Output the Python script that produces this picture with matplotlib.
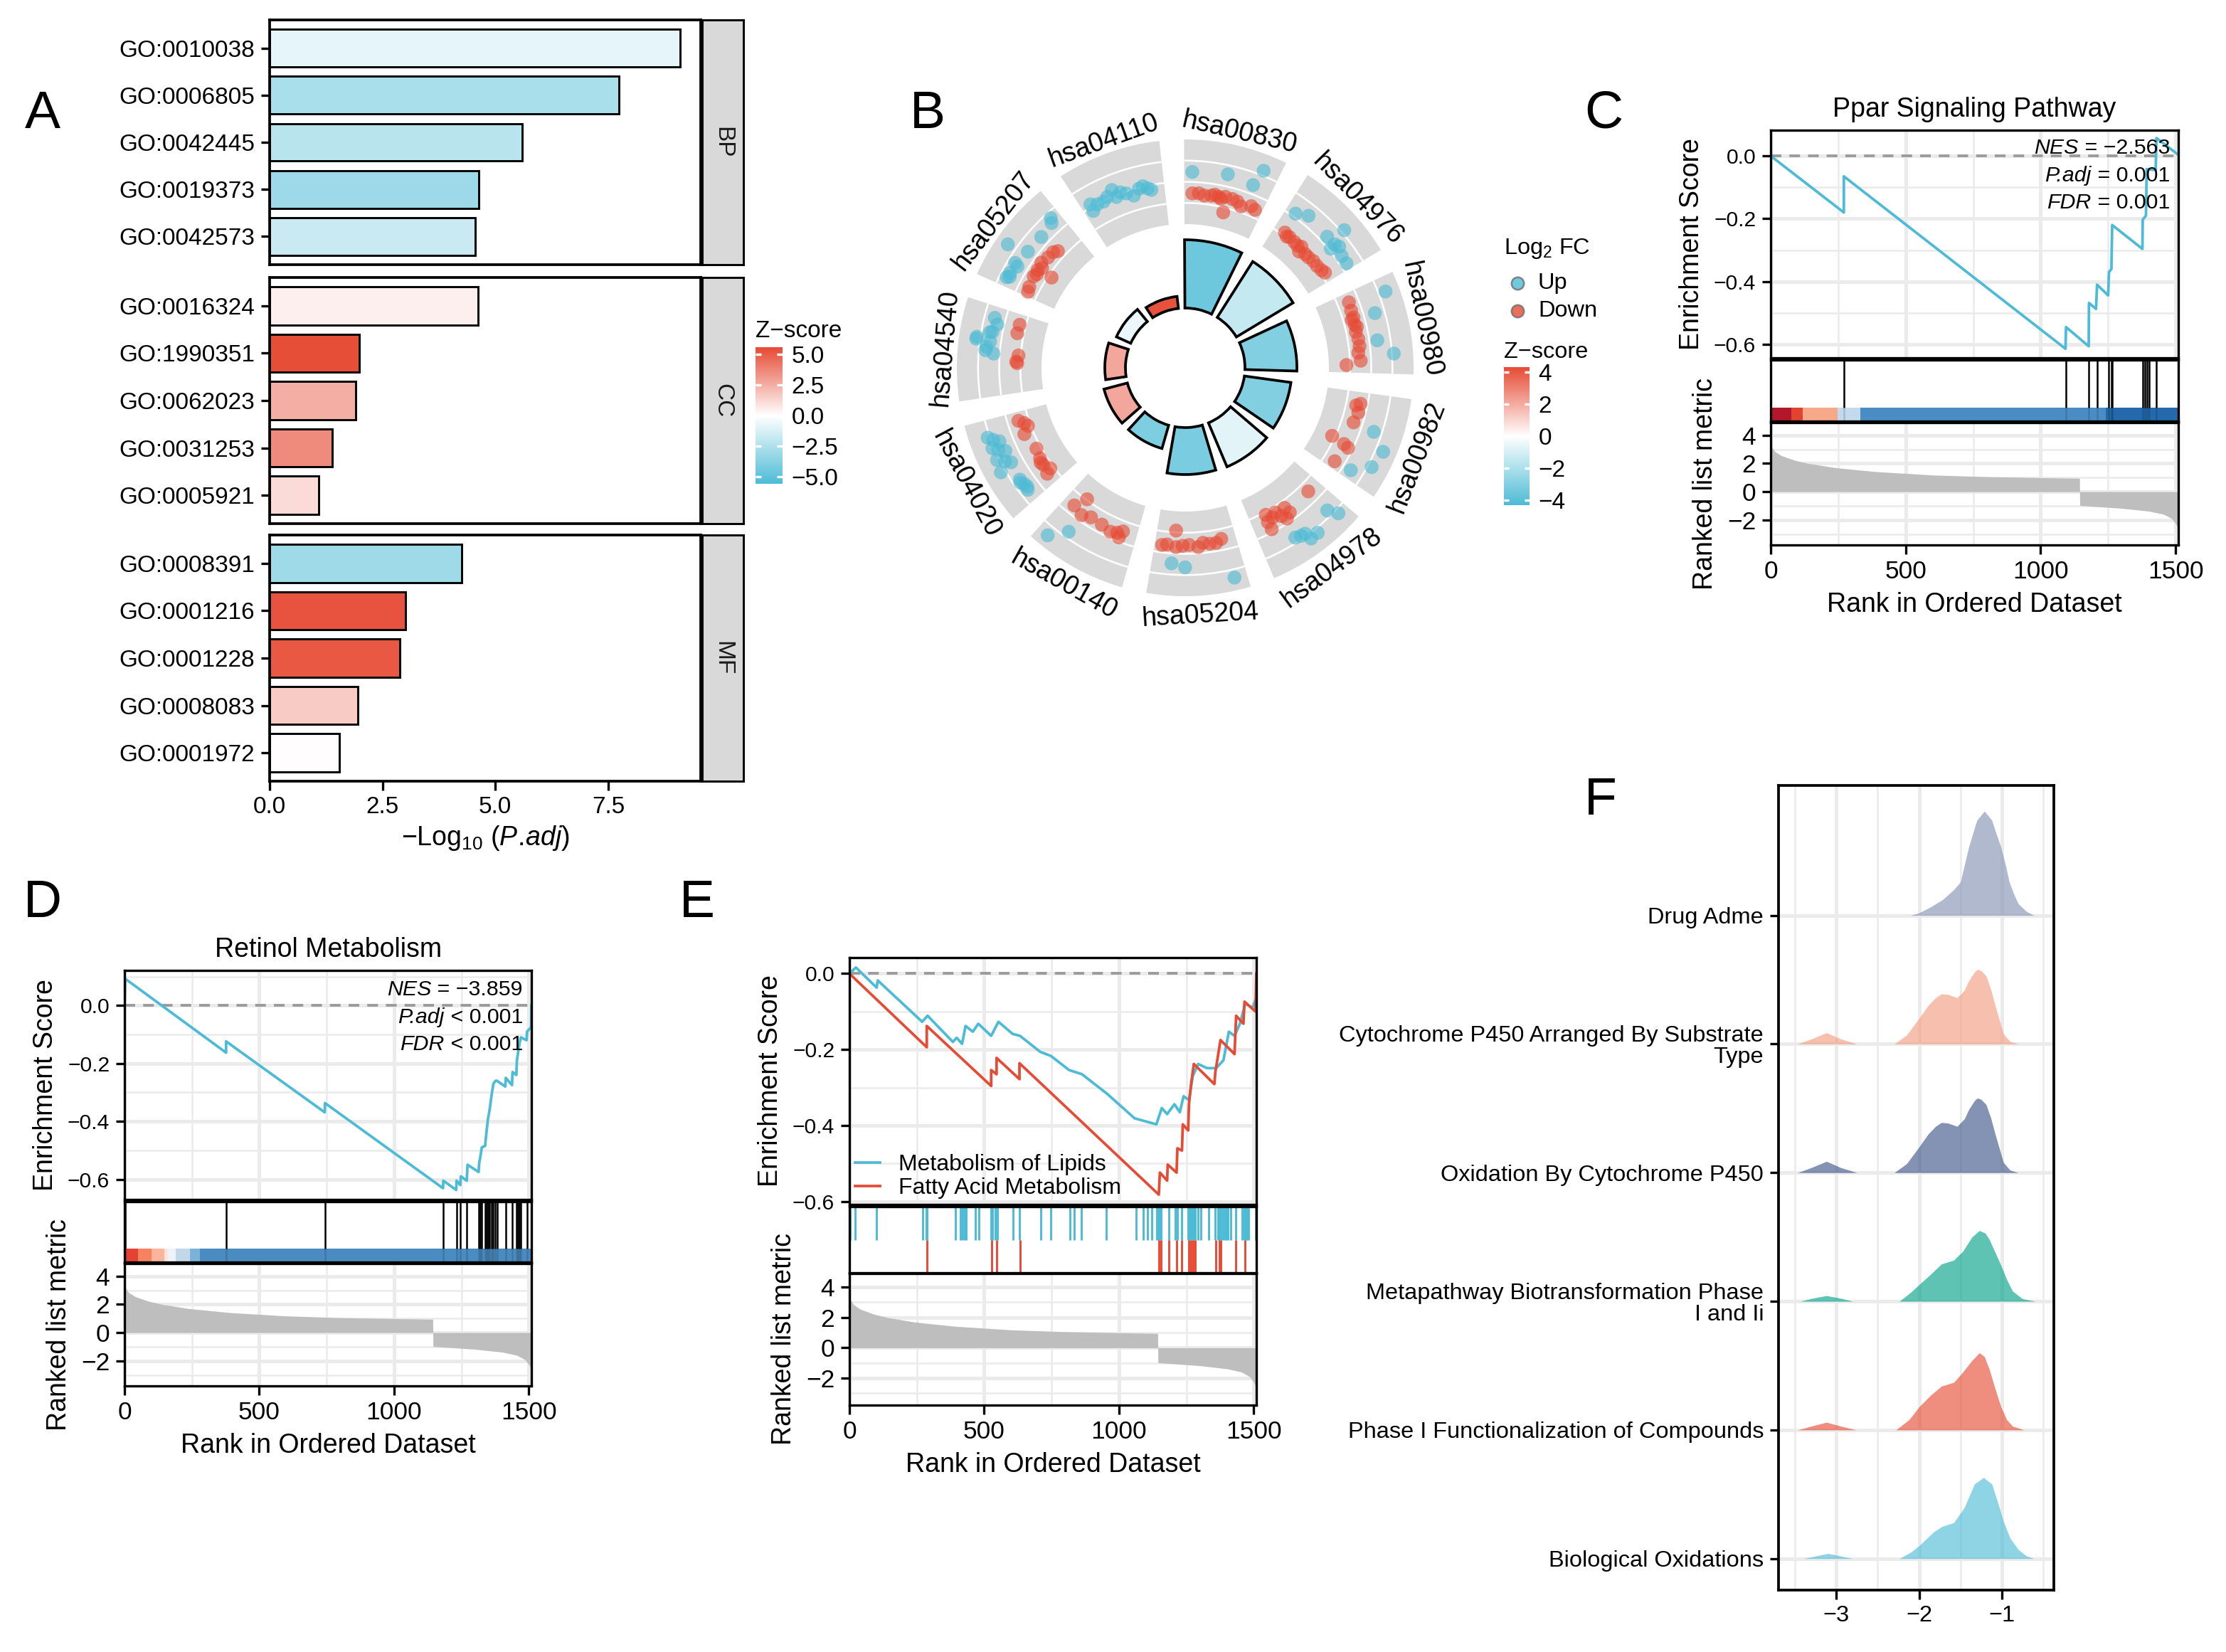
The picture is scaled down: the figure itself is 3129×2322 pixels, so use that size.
import numpy as np
import matplotlib
matplotlib.use('Agg')
import matplotlib.pyplot as plt
from matplotlib.patches import Wedge, Rectangle
from matplotlib.colors import LinearSegmentedColormap, Normalize
from matplotlib.cm import ScalarMappable
from matplotlib.lines import Line2D

plt.rcParams['font.family'] = ['Liberation Sans', 'DejaVu Sans']
plt.rcParams['mathtext.fontset'] = 'custom'
plt.rcParams['mathtext.rm'] = 'Liberation Sans'
plt.rcParams['mathtext.it'] = 'Liberation Sans:italic'
plt.rcParams['mathtext.default'] = 'regular'

# ---------------- data: panel A (GO bars) ----------------
go_ids = ['GO:0010038', 'GO:0006805', 'GO:0042445', 'GO:0019373', 'GO:0042573',
          'GO:0016324', 'GO:1990351', 'GO:0062023', 'GO:0031253', 'GO:0005921',
          'GO:0008391', 'GO:0001216', 'GO:0001228', 'GO:0008083', 'GO:0001972']
go_cat = ['BP'] * 5 + ['CC'] * 5 + ['MF'] * 5
go_padj = [9.10, 7.73, 5.59, 4.64, 4.55, 4.61, 1.98, 1.91, 1.38, 1.08, 4.26, 3.01, 2.89, 1.95, 1.55]
go_z = [-0.8, -2.7, -2.2, -3.1, -1.7, 0.5, 5.5, 2.5, 3.6, 1.1, -3.0, 5.3, 5.2, 1.6, 0.05]

# ---------------- data: panel B (KEGG circle) ----------------
kegg_ids = ['hsa00830', 'hsa04976', 'hsa00980', 'hsa00982', 'hsa04978', 'hsa05204',
            'hsa00140', 'hsa04020', 'hsa04540', 'hsa05207', 'hsa04110']
kegg_neglog_p = [9.6, 9.3, 7.3, 6.6, 6.7, 6.6, 3.4, 3.4, 2.9, 2.2, 1.7]
kegg_z = [-3.5, -1.4, -3.0, -3.0, -0.7, -3.2, -3.1, 2.1, 2.1, -0.5, 4.1]

# gene points: (position inside sector 0-1, log2FC track value)
up_hsa00830 = [(0.09, 0.47), (0.48, 0.57), (0.83, 1.23), (0.78, 0.42)]
down_hsa00830 = [(0.10, -0.54), (0.18, -0.52), (0.25, -0.60), (0.34, -0.56), (0.38, -0.49), (0.43, -0.56),
                 (0.46, -0.62), (0.51, -0.49), (0.53, -1.23), (0.60, -0.51), (0.67, -0.56), (0.73, -0.72),
                 (0.85, -0.54), (0.91, -0.63)]
up_hsa04976 = [(0.12, 0.17), (0.25, 0.46), (0.63, 1.15), (0.56, 0.34), (0.68, 0.37), (0.73, 0.47),
               (0.69, 0.10), (0.83, 0.30), (0.93, 0.29)]
down_hsa04976 = [(0.15, -0.85), (0.23, -0.89), (0.32, -0.92), (0.43, -0.86), (0.45, -1.10), (0.53, -0.98),
                 (0.59, -0.97), (0.67, -0.91), (0.75, -0.92), (0.83, -0.87), (0.88, -0.80), (0.20, -0.95),
                 (0.38, -0.95)]
up_hsa00980 = [(0.15, 1.34), (0.33, 0.54), (0.63, 0.38), (0.79, 1.09)]
down_hsa00980 = [(0.115, -0.46), (0.22, -0.50), (0.31, -0.49), (0.33, -0.60), (0.40, -0.53), (0.43, -0.45),
                 (0.49, -0.55), (0.58, -0.50), (0.67, -0.49), (0.75, -0.58), (0.85, -0.49), (0.90, -1.17)]
up_hsa00982 = [(0.41, 0.62), (0.57, 1.37), (0.76, 1.19), (0.90, 0.41)]
down_hsa00982 = [(0.14, -0.33), (0.17, -0.52), (0.25, -0.34), (0.38, -0.43), (0.64, -1.14), (0.67, -0.47),
                 (0.69, -0.22), (0.91, -0.46)]
up_hsa04978 = [(0.11, 1.19), (0.17, 0.72), (0.40, 1.21), (0.49, 1.23), (0.51, 0.88), (0.62, 0.77), (0.56, 0.85)]
down_hsa04978 = [(0.17, -0.55), (0.53, -0.68), (0.51, -0.36), (0.58, -0.20), (0.66, -0.74), (0.78, -0.87),
                 (0.80, -0.52), (0.80, -0.14), (0.72, -0.60), (0.62, -0.45)]
up_hsa05204 = [(0.13, 1.39), (0.63, 0.64), (0.78, 0.47)]
down_hsa05204 = [(0.18, -0.53), (0.25, -0.39), (0.41, -0.48), (0.47, -0.30), (0.58, -0.42), (0.74, -0.31),
                 (0.75, -1.09), (0.91, -0.35), (0.33, -0.40), (0.66, -0.38), (0.85, -0.40)]
up_hsa00140 = [(0.73, 0.71), (0.88, 1.45)]
down_hsa00140 = [(0.18, -0.52), (0.20, -0.19), (0.24, -0.36), (0.32, -0.28), (0.45, -0.40), (0.61, -0.44),
                 (0.72, -0.28), (0.78, -1.04), (0.86, -0.44)]
up_hsa04020 = [(0.13, 0.62), (0.20, 0.58), (0.27, 0.64), (0.44, 1.22), (0.48, 0.57), (0.57, 1.11),
               (0.62, 0.57), (0.70, 1.08), (0.74, 0.65), (0.82, 1.11), (0.16, 0.55), (0.24, 0.70),
               (0.52, 0.80), (0.66, 0.85), (0.78, 0.90)]
down_hsa04020 = [(0.14, -0.57), (0.17, -0.84), (0.26, -0.67), (0.35, -0.71), (0.48, -0.79), (0.71, -0.57),
                 (0.79, -0.87), (0.89, -0.52), (0.30, -0.62), (0.84, -0.75)]
up_hsa04540 = [(0.48, 0.29), (0.51, 0.69), (0.55, 0.65), (0.61, 0.51), (0.64, 1.16), (0.72, 0.47),
               (0.81, 0.32), (0.875, 0.51), (0.62, 1.18), (0.71, 0.59)]
down_hsa04540 = [(0.38, -0.85), (0.48, -0.89), (0.76, -0.69), (0.87, -0.71), (0.40, -0.80)]
up_hsa05207 = [(0.10, 0.67), (0.16, 0.62), (0.26, 0.47), (0.28, 0.65), (0.40, 1.42), (0.46, 0.45),
               (0.68, 0.40), (0.87, 0.52), (0.90, 0.72), (0.12, 0.55)]
down_hsa05207 = [(0.06, -0.54), (0.12, -0.49), (0.26, -0.43), (0.35, -0.43), (0.37, -1.17), (0.45, -0.37),
                 (0.55, -0.47), (0.64, -0.50), (0.69, -0.63), (0.40, -0.55), (0.30, -0.50)]
up_hsa04110 = [(0.10, -0.20), (0.11, 0.14), (0.18, -0.02), (0.26, -0.04), (0.32, 0.08), (0.40, 0.30),
               (0.42, -0.09), (0.54, -0.09), (0.62, -0.30), (0.75, 0.02), (0.80, -0.13), (0.84, -0.23),
               (0.70, -0.05), (0.48, 0.05)]
down_hsa04110 = []

up_points = [up_hsa00830, up_hsa04976, up_hsa00980, up_hsa00982, up_hsa04978, up_hsa05204,
             up_hsa00140, up_hsa04020, up_hsa04540, up_hsa05207, up_hsa04110]
down_points = [down_hsa00830, down_hsa04976, down_hsa00980, down_hsa00982, down_hsa04978, down_hsa05204,
               down_hsa00140, down_hsa04020, down_hsa04540, down_hsa05207, down_hsa04110]

# ---------------- data: GSEA panels C, D, E ----------------
n_genes = 1510
rank_x = [1, 5, 15, 40, 90, 140, 240, 390, 600, 800, 1000, 1144, 1145, 1300, 1400, 1455, 1485, 1500, 1510]
rank_metric = [3.45, 3.15, 2.85, 2.55, 2.22, 2.0, 1.7, 1.42, 1.18, 1.06, 0.99, 0.95,
               -0.98, -1.18, -1.38, -1.6, -1.9, -2.25, -2.6]

es_c_x = [0, 271, 271, 1092, 1094, 1178, 1179, 1205, 1209, 1250, 1253, 1262, 1265, 1377, 1378,
          1390, 1393, 1426, 1429, 1508]
es_c_y = [0.0, -0.18, -0.065, -0.614, -0.545, -0.606, -0.468, -0.487, -0.41, -0.444, -0.37, -0.36,
          -0.22, -0.296, -0.203, -0.19, -0.042, -0.045, 0.057, 0.005]
hits_c = [271, 1094, 1179, 1209, 1253, 1262, 1265, 1377, 1385, 1393, 1401, 1429]
bar_c_edges = [0, 77, 118, 247, 332, 1240, 1510]
bar_c_cols = ['#B2182B', '#E0432F', '#F7A889', '#C3DAEC', '#4A8DC4', '#2469AB']

es_d_x = [0, 3, 377, 377, 743, 744, 1182, 1183, 1231, 1232, 1246, 1248, 1270, 1273, 1314, 1316, 1321,
          1326, 1338, 1344, 1349, 1355, 1362, 1369, 1377, 1382, 1413, 1415, 1438, 1440, 1454, 1456,
          1461, 1466, 1471, 1492, 1494, 1509, 1510]
es_d_y = [0, 0.092, -0.163, -0.124, -0.369, -0.337, -0.631, -0.605, -0.637, -0.605, -0.62, -0.59,
          -0.605, -0.55, -0.575, -0.545, -0.52, -0.49, -0.485, -0.43, -0.39, -0.36, -0.31, -0.27,
          -0.26, -0.26, -0.28, -0.25, -0.275, -0.23, -0.24, -0.19, -0.16, -0.13, -0.11, -0.12,
          -0.09, -0.075, 0.0]
hits_d = [3, 377, 744, 1183, 1232, 1247, 1270, 1315, 1321, 1325, 1338, 1343, 1348, 1353, 1361, 1368,
          1376, 1382, 1414, 1439, 1455, 1460, 1465, 1470, 1493, 1510]
bar_d_edges = [0, 51, 101, 147, 160, 190, 244, 281, 1510]
bar_d_cols = ['#E34234', '#F7825F', '#FCB59C', '#FEE5D9', '#EEF3FA', '#C2D8E8', '#7BB3D8', '#4A8CC2']

es_lipid_x = [0, 24, 101, 105, 270, 290, 384, 398, 418, 431, 458, 478, 526, 553, 606, 633, 708, 748,
              815, 863, 957, 1058, 1139, 1159, 1179, 1206, 1226, 1240, 1260, 1274, 1294, 1327, 1361,
              1388, 1408, 1429, 1449, 1469, 1496, 1507]
es_lipid_y = [0, 0.016, -0.037, -0.018, -0.127, -0.111, -0.18, -0.169, -0.185, -0.138, -0.153, -0.132,
              -0.164, -0.127, -0.159, -0.164, -0.206, -0.217, -0.254, -0.265, -0.317, -0.381, -0.397,
              -0.354, -0.37, -0.344, -0.365, -0.323, -0.333, -0.27, -0.238, -0.249, -0.249, -0.228,
              -0.153, -0.164, -0.132, -0.079, -0.09, -0.069]
es_fatty_x = [0, 287, 287, 526, 526, 546, 546, 631, 631, 1148, 1152, 1179, 1181, 1214, 1217, 1234, 1237,
              1257, 1260, 1268, 1278, 1354, 1358, 1377, 1429, 1435, 1462, 1466, 1507, 1510]
es_fatty_y = [0, -0.194, -0.138, -0.296, -0.254, -0.265, -0.222, -0.278, -0.236, -0.582, -0.524, -0.545,
              -0.503, -0.524, -0.46, -0.466, -0.397, -0.413, -0.344, -0.29, -0.238, -0.291, -0.259,
              -0.175, -0.212, -0.111, -0.132, -0.074, -0.1, 0.0]
hits_lipid = [2, 22, 100, 272, 285, 289, 393, 413, 420, 427, 434, 467, 481, 525, 530, 542, 548, 608, 631,
              709, 747, 818, 835, 861, 954, 1065, 1091, 1106, 1121, 1141, 1146, 1151, 1156, 1184, 1209,
              1217, 1232, 1257, 1262, 1268, 1273, 1278, 1283, 1293, 1303, 1333, 1357, 1367, 1374, 1379,
              1387, 1394, 1399, 1404, 1414, 1434, 1458, 1465, 1470, 1475, 1480, 1507]
hits_fatty = [287, 527, 547, 633, 1148, 1156, 1184, 1214, 1232, 1259, 1268, 1276, 1283, 1359, 1374, 1379,
              1434, 1468]

# ---------------- data: panel F (ridges) ----------------
ridge_names = ['Biological Oxidations', 'Phase I Functionalization of Compounds',
               'Metapathway Biotransformation Phase\nI and Ii', 'Oxidation By Cytochrome P450',
               'Cytochrome P450 Arranged By Substrate\nType', 'Drug Adme']
ridge_colors = ['#4DBBD5', '#E64B35', '#00A087', '#3C5488', '#F39B7F', '#8491B4']
ridge_bio_x = [-3.40, -3.25, -3.10, -2.95, -2.80, -2.24, -2.10, -2.00, -1.82, -1.72, -1.58, -1.45, -1.33,
               -1.22, -1.12, -1.05, -0.98, -0.90, -0.80, -0.70, -0.61]
ridge_bio_h = [0, .02, .04, .02, 0, 0, .05, .10, .21, .25, .28, .40, .58, .63, .58, .44, .29, .16, .07, .02, 0]
ridge_phase_x = [-3.47, -3.30, -3.12, -2.95, -2.76, -2.28, -2.12, -2.00, -1.86, -1.73, -1.58, -1.47, -1.36,
                 -1.27, -1.21, -1.15, -1.08, -1.01, -0.94, -0.87, -0.73]
ridge_phase_h = [0, .03, .06, .03, 0, 0, .08, .18, .27, .34, .37, .45, .54, .60, .57, .47, .32, .18, .08, .03, 0]
ridge_meta_x = [-3.44, -3.28, -3.12, -2.96, -2.80, -2.24, -2.10, -2.00, -1.86, -1.73, -1.58, -1.47, -1.36,
                -1.27, -1.20, -1.15, -1.08, -1.01, -0.94, -0.87, -0.75, -0.59]
ridge_meta_h = [0, .025, .044, .025, 0, 0, .07, .13, .21, .29, .32, .39, .50, .55, .53, .48, .38, .28, .17,
                .08, .02, 0]
ridge_oxid_x = [-3.47, -3.30, -3.12, -2.95, -2.75, -2.30, -2.15, -2.00, -1.89, -1.80, -1.73, -1.65, -1.54,
                -1.45, -1.40, -1.33, -1.295, -1.25, -1.19, -1.13, -1.08, -0.98, -0.90, -0.80]
ridge_oxid_h = [0, .04, .088, .04, 0, 0, .07, .20, .30, .36, .39, .385, .36, .42, .49, .56, .58, .57, .53,
                .42, .30, .08, .02, 0]
ridge_cyp_x = [-3.47, -3.30, -3.12, -2.95, -2.75, -2.30, -2.15, -2.00, -1.89, -1.80, -1.73, -1.65, -1.54,
               -1.45, -1.40, -1.33, -1.295, -1.25, -1.19, -1.13, -1.08, -0.98, -0.90, -0.80]
ridge_cyp_h = [0, .04, .088, .04, 0, 0, .07, .20, .30, .36, .39, .385, .36, .42, .49, .56, .58, .57, .53,
               .42, .30, .08, .02, 0]
ridge_drug_x = [-2.10, -2.00, -1.86, -1.72, -1.58, -1.50, -1.40, -1.33, -1.30, -1.21, -1.12, -1.08, -1.01,
                -0.95, -0.91, -0.85, -0.80, -0.70, -0.61]
ridge_drug_h = [0, .02, .066, .12, .20, .26, .53, .68, .74, .81, .74, .66, .53, .38, .26, .16, .09, .03, 0]
ridge_x = [ridge_bio_x, ridge_phase_x, ridge_meta_x, ridge_oxid_x, ridge_cyp_x, ridge_drug_x]
ridge_h = [ridge_bio_h, ridge_phase_h, ridge_meta_h, ridge_oxid_h, ridge_cyp_h, ridge_drug_h]

# ---------------- figure ----------------
W, H = 3129, 2322
fig = plt.figure(figsize=(W / 300, H / 300), dpi=300)


def rect(x0, y0, x1, y1):
    return [x0 / W, 1 - y1 / H, (x1 - x0) / W, (y1 - y0) / H]


cmap_z = LinearSegmentedColormap.from_list('zscore', ['#4DBBD5', '#FFFFFF', '#E64B35'])
BLUE, RED = '#4DBBD5', '#E64B35'


def ggplot_colorbar(box, norm, ticks, labels):
    cax = fig.add_axes(rect(*box))
    cb = fig.colorbar(ScalarMappable(norm=norm, cmap=cmap_z), cax=cax)
    cb.outline.set_visible(False)
    cb.set_ticks(ticks)
    cb.set_ticklabels(labels)
    cax.tick_params(length=0, labelsize=8, pad=3)
    for t in ticks:
        cax.hlines(t, 0, 0.2, color='white', lw=0.8)
        cax.hlines(t, 0.8, 1, color='white', lw=0.8)
    return cax


def stat_note(ax, lines, y0, dy, size=7.3):
    # italic statistic name followed by upright value, right aligned
    for k, (name, rest) in enumerate(lines):
        t = ax.text(0.979, y0 - k * dy, rest, transform=ax.transAxes, ha='right', va='top', fontsize=size)
        ax.annotate(name, xy=(0, 0), xycoords=t, ha='right', va='bottom', fontsize=size,
                    fontstyle='italic')


# ---- panel A ----
norm_a = Normalize(-5.6, 5.6)
facet_box = {'BP': (28, 372), 'CC': (390, 736), 'MF': (752, 1098)}
for cat in ['BP', 'CC', 'MF']:
    y0, y1 = facet_box[cat]
    ax = fig.add_axes(rect(379, y0, 985, y1))
    sel = [i for i, c in enumerate(go_cat) if c == cat]
    ypos = np.arange(len(sel), 0, -1)
    ax.barh(ypos, [go_padj[i] for i in sel], height=0.8,
            color=[cmap_z(norm_a(go_z[i])) for i in sel], edgecolor='black', linewidth=0.7)
    ax.set_xlim(0, 9.55)
    ax.set_ylim(0.4, len(sel) + 0.6)
    ax.set_yticks(ypos)
    ax.set_yticklabels([go_ids[i] for i in sel], fontsize=8)
    ax.set_xticks([0, 2.5, 5, 7.5])
    ax.tick_params(length=3, width=0.8, pad=2)
    if cat != 'MF':
        ax.tick_params(axis='x', bottom=False, labelbottom=False)
    else:
        ax.set_xticklabels(['0.0', '2.5', '5.0', '7.5'], fontsize=8)
        ax.set_xlabel('−Log$_{10}$ ($\\mathit{P.\\!adj}$)', fontsize=9, labelpad=2)
    for sp in ax.spines.values():
        sp.set_linewidth(0.9)
    sx = fig.add_axes(rect(987, y0, 1045, y1))
    sx.set_facecolor('#D9D9D9')
    sx.set_xticks([])
    sx.set_yticks([])
    for sp in sx.spines.values():
        sp.set_linewidth(0.7)
    sx.text(0.5, 0.5, cat, rotation=-90, ha='center', va='center', fontsize=8,
            color='#1A1A1A', transform=sx.transAxes)

fig.text(1062 / W, 1 - 465 / H, 'Z−score', fontsize=8, va='center')
ggplot_colorbar((1062, 488, 1100, 680), norm_a, [-5, -2.5, 0, 2.5, 5],
                ['−5.0', '−2.5', '0.0', '2.5', '5.0'])

# ---- panel B ----
norm_b = Normalize(-4.3, 4.3)
axb = fig.add_axes(rect(1266, 117, 2066, 917))
axb.set_xlim(-400, 400)
axb.set_ylim(-400, 400)
axb.set_aspect('equal')
axb.axis('off')
n_sec = len(kegg_ids)
step = 360 / n_sec
span = 26.5
r_track_in, r_track_out = 202, 321
r_bar_in = 84
for i in range(n_sec):
    a0 = i * step - 0.3
    th1, th2 = 90 - (a0 + span), 90 - a0
    axb.add_patch(Wedge((0, 0), r_track_out, th1, th2, width=r_track_out - r_track_in,
                        facecolor='#D9D9D9', edgecolor='none'))
    for rr in [231.75, 261.5, 291.25]:
        axb.add_patch(Wedge((0, 0), rr + 1.3, th1, th2, width=2.6, facecolor='white', edgecolor='none'))
    hgt = kegg_neglog_p[i] * 10
    axb.add_patch(Wedge((0, 0), r_bar_in + hgt, th1, th2, width=hgt,
                        facecolor=cmap_z(norm_b(kegg_z[i])), edgecolor='black', lw=0.9))
    for pts, col in [(up_points[i], BLUE), (down_points[i], RED)]:
        if not pts:
            continue
        pos = np.array([p[0] for p in pts])
        val = np.array([p[1] for p in pts])
        ang = np.radians(a0 + pos * span)
        rad = 261.5 + val * 29.75
        axb.scatter(rad * np.sin(ang), rad * np.cos(ang), s=22, color=col, alpha=0.62,
                    edgecolors='none', zorder=3)
    mid = a0 + span / 2
    flip = 90 < mid < 270
    rot = -mid + (180 if flip else 0)
    if rot < -180:
        rot += 360
    r_lab = 331 if flip else 329
    axb.text(r_lab * np.sin(np.radians(mid)), r_lab * np.cos(np.radians(mid)), kegg_ids[i],
             rotation=rot, rotation_mode='anchor', ha='center',
             va='top' if flip else 'baseline', fontsize=9)

fig.text(2114 / W, 1 - 350 / H, 'Log$_2$ FC', fontsize=7.8, va='center')
for yy, col, lab in [(398, BLUE, 'Up'), (437, RED, 'Down')]:
    fig.add_artist(Line2D([2133 / W], [1 - yy / H], marker='o', markersize=4.2, color=col,
                          markeredgecolor='#6E6E6E', markeredgewidth=0.6, alpha=0.8,
                          transform=fig.transFigure))
    fig.text(2162 / W, 1 - yy / H, lab, fontsize=7.8, va='center')
fig.text(2114 / W, 1 - 495 / H, 'Z−score', fontsize=7.8, va='center')
ggplot_colorbar((2114, 516, 2150, 710), norm_b, [-4, -2, 0, 2, 4], ['−4', '−2', '0', '2', '4'])


# ---- GSEA panels ----
def grid_axes(ax, ymaj, ymin):
    ax.set_xlim(0, n_genes)
    ax.set_xticks([0, 500, 1000, 1500])
    ax.set_xticks([250, 750, 1250], minor=True)
    ax.set_yticks(ymaj)
    ax.set_yticks(ymin, minor=True)
    ax.grid(which='major', color='#EBEBEB', lw=1.2)
    ax.grid(which='minor', color='#EBEBEB', lw=0.6)
    ax.set_axisbelow(True)
    ax.tick_params(which='minor', length=0)
    ax.tick_params(which='major', length=3, width=0.8, pad=2)
    for sp in ax.spines.values():
        sp.set_linewidth(0.8)


def gsea_panel(x0, x1, es_y, rug_y, met_y, es_ylim):
    ax_es = fig.add_axes(rect(x0, es_y[0], x1, es_y[1]))
    ax_rug = fig.add_axes(rect(x0, rug_y[0], x1, rug_y[1]))
    ax_met = fig.add_axes(rect(x0, met_y[0], x1, met_y[1]))
    grid_axes(ax_es, [-0.6, -0.4, -0.2, 0.0], [-0.5, -0.3, -0.1, 0.1])
    ax_es.set_ylim(*es_ylim)
    ax_es.set_yticklabels(['−0.6', '−0.4', '−0.2', '0.0'], fontsize=7.2)
    ax_es.tick_params(axis='x', bottom=False, labelbottom=False)
    ax_es.axhline(0, color='#999999', ls=(0, (4, 3)), lw=0.9, zorder=1)
    ax_es.set_ylabel('Enrichment Score', fontsize=9, labelpad=3)

    ax_rug.set_xlim(0, n_genes)
    ax_rug.set_ylim(0, 1)
    ax_rug.set_xticks([])
    ax_rug.set_yticks([])
    for sp in ax_rug.spines.values():
        sp.set_linewidth(0.8)

    grid_axes(ax_met, [-2, 0, 2, 4], [-3, -1, 1, 3])
    ax_met.set_ylim(-3.78, 4.9)
    ax_met.set_yticklabels(['−2', '0', '2', '4'], fontsize=8.5)
    ax_met.set_xticklabels(['0', '500', '1000', '1500'], fontsize=8.5)
    ax_met.fill_between(rank_x, 0, rank_metric, color='#BEBEBE', lw=0, zorder=2)
    ax_met.set_ylabel('Ranked list metric', fontsize=9, labelpad=3)
    ax_met.set_xlabel('Rank in Ordered Dataset', fontsize=9, labelpad=3)
    return ax_es, ax_rug, ax_met


def rank_colorbar(ax, edges, cols, hits):
    for k in range(len(cols)):
        ax.add_patch(Rectangle((edges[k], 0), edges[k + 1] - edges[k], 0.22, facecolor=cols[k], lw=0))
    ax.vlines(hits, 0.22, 1, color='black', lw=0.6)
    ax.vlines(hits, 0, 0.22, color='black', lw=0.6, alpha=0.15)


# C
es, rug, met = gsea_panel(2489, 3062, (183, 503), (506, 592), (594, 766), (-0.643, 0.082))
es.plot(es_c_x, es_c_y, color=BLUE, lw=0.9)
rank_colorbar(rug, bar_c_edges, bar_c_cols, hits_c)
stat_note(es, [('NES', ' = −2.563'), ('P.adj', ' = 0.001'), ('FDR', ' = 0.001')], 0.965, 0.12)
fig.text(2775 / W, 1 - 154 / H, 'Ppar Signaling Pathway', fontsize=9, ha='center', va='center')

# D
es, rug, met = gsea_panel(175, 747, (1364, 1686), (1689, 1774), (1776, 1948), (-0.67, 0.121))
es.plot(es_d_x, es_d_y, color=BLUE, lw=0.9)
rank_colorbar(rug, bar_d_edges, bar_d_cols, hits_d)
stat_note(es, [('NES', ' = −3.859'), ('P.adj', ' < 0.001'), ('FDR', ' < 0.001')], 0.96, 0.12)
fig.text(462 / W, 1 - 1335 / H, 'Retinol Metabolism', fontsize=9, ha='center', va='center')

# E
es, rug, met = gsea_panel(1194, 1766, (1346, 1693), (1696, 1789), (1790, 1975), (-0.608, 0.042))
es.plot(es_lipid_x, es_lipid_y, color=BLUE, lw=0.9, label='Metabolism of Lipids')
es.plot(es_fatty_x, es_fatty_y, color=RED, lw=0.9, label='Fatty Acid Metabolism')
es.legend(loc='lower left', frameon=False, fontsize=7.7, handlelength=1.1, handletextpad=0.8,
          labelspacing=0.1, borderaxespad=0.05, borderpad=0.2)
rug.vlines(hits_lipid, 0.5, 1, color=BLUE, lw=0.7)
rug.vlines(hits_fatty, 0, 0.5, color=RED, lw=0.7)

# ---- panel F ----
axf = fig.add_axes(rect(2500, 1104, 2887, 2235))
axf.set_xlim(-3.70, -0.37)
axf.set_ylim(0.755, 7.01)
for xv in [-3.5, -2.5, -1.5, -0.5]:
    axf.axvline(xv, color='#EBEBEB', lw=0.6, zorder=0)
for xv in [-3, -2, -1]:
    axf.axvline(xv, color='#EBEBEB', lw=1.2, zorder=0)
for k in range(len(ridge_names)):
    axf.axhline(k + 1, color='#EBEBEB', lw=1.2, zorder=0)
for k in range(len(ridge_names) - 1, -1, -1):
    base = k + 1
    axf.fill_between(ridge_x[k], base, base + np.array(ridge_h[k]), color=ridge_colors[k],
                     alpha=0.63, lw=0, zorder=2)
axf.set_yticks(np.arange(1, len(ridge_names) + 1))
axf.set_yticklabels(ridge_names, fontsize=7.8, linespacing=1.0)
axf.set_xticks([-3, -2, -1])
axf.set_xticklabels(['−3', '−2', '−1'], fontsize=7.8)
axf.tick_params(length=3, width=0.8, pad=2)
for sp in axf.spines.values():
    sp.set_linewidth(0.9)

# ---- panel letters ----
for lab, (px, py) in {'A': (60, 160), 'B': (1304, 160), 'C': (2254, 160),
                      'D': (60, 1270), 'E': (980, 1270), 'F': (2250, 1126)}.items():
    fig.text(px / W, 1 - py / H, lab, fontsize=18, ha='center', va='center')

fig.savefig('out.png', dpi=300, facecolor='white')
